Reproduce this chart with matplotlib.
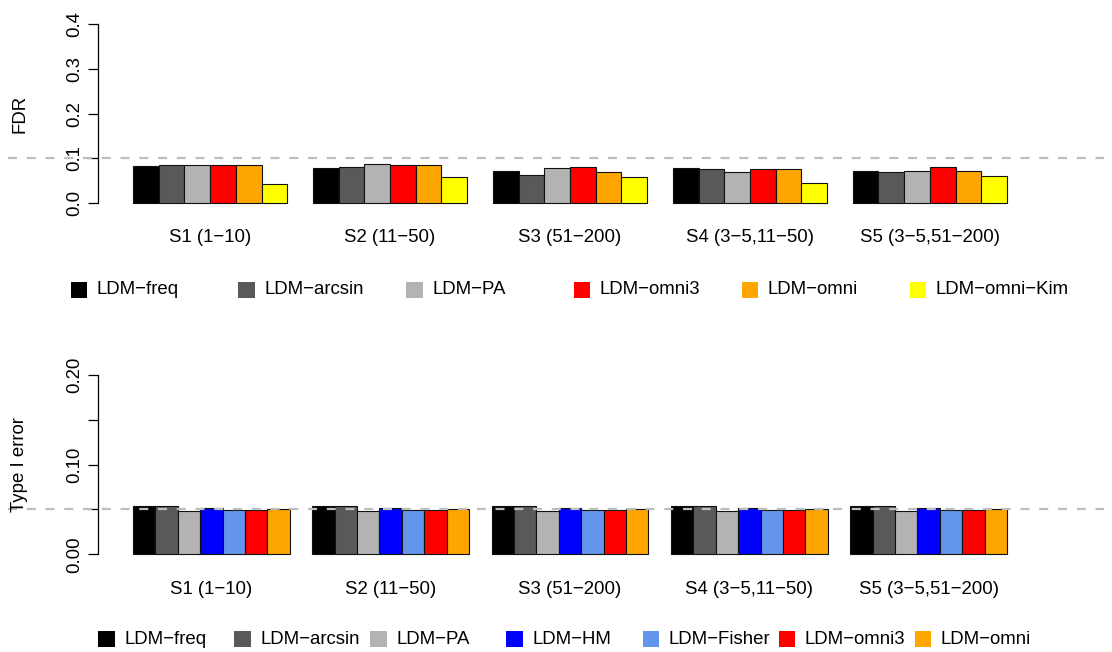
import matplotlib
matplotlib.use("Agg")
import matplotlib.pyplot as plt
import matplotlib.transforms as mtransforms
from matplotlib.patches import Rectangle
import numpy as np

plt.rcParams["font.family"] = ["Liberation Sans", "DejaVu Sans"]
plt.rcParams["font.size"] = 13.4
plt.rcParams["lines.scale_dashes"] = False

W, H = 1112, 652
MINUS = "\u2212"

scenarios = ["S1 (1-10)", "S2 (11-50)", "S3 (51-200)",
             "S4 (3-5,11-50)", "S5 (3-5,51-200)"]

# FDR, one list per method, one value per scenario
fdr_methods = ["LDM-freq", "LDM-arcsin", "LDM-PA", "LDM-omni3", "LDM-omni",
               "LDM-omni-Kim"]
fdr_colors = ["#000000", "#595959", "#B3B3B3", "#FF0000", "#FFA500", "#FFFF00"]
fdr_freq = [0.083, 0.078, 0.071, 0.078, 0.072]
fdr_arcsin = [0.085, 0.082, 0.064, 0.076, 0.069]
fdr_pa = [0.086, 0.087, 0.078, 0.070, 0.071]
fdr_omni3 = [0.086, 0.086, 0.081, 0.076, 0.081]
fdr_omni = [0.086, 0.086, 0.070, 0.076, 0.073]
fdr_kim = [0.043, 0.059, 0.058, 0.046, 0.061]
fdr_target = 0.1

# type I error
t1_methods = ["LDM-freq", "LDM-arcsin", "LDM-PA", "LDM-HM", "LDM-Fisher",
              "LDM-omni3", "LDM-omni"]
t1_colors = ["#000000", "#595959", "#B3B3B3", "#0000FF", "#6495ED",
             "#FF0000", "#FFA500"]
t1_freq = [0.054, 0.054, 0.054, 0.054, 0.054]
t1_arcsin = [0.054, 0.054, 0.054, 0.054, 0.054]
t1_pa = [0.048, 0.048, 0.048, 0.048, 0.048]
t1_hm = [0.052, 0.052, 0.052, 0.052, 0.052]
t1_fisher = [0.049, 0.049, 0.049, 0.049, 0.049]
t1_omni3 = [0.049, 0.049, 0.049, 0.049, 0.049]
t1_omni = [0.051, 0.051, 0.051, 0.051, 0.051]
t1_alpha = 0.05


def rtext(s):
    return s.replace("-", MINUS)


def px_axes(fig, x0, y0, x1, y1):
    return fig.add_axes([x0 / W, 1 - y1 / H, (x1 - x0) / W, (y1 - y0) / H])


def grouped_bars(ax, series, colors, ymax, yticks, ylabels, target):
    n = len(series)
    ngroups = len(series[0])
    vals = np.array(series)
    for g in range(ngroups):
        for i in range(n):
            left = g * (n + 1) + 1 + i
            ax.bar(left + 0.5, vals[i, g], width=1, color=colors[i],
                   edgecolor="#111111", linewidth=0.8)
    span = ngroups * (n + 1) - 1
    ax.set_xlim(1 - 0.04 * span, ngroups * (n + 1) + 0.04 * span)
    ax.set_ylim(-0.04 * ymax, 1.04 * ymax)
    for s in ["top", "right", "bottom"]:
        ax.spines[s].set_visible(False)
    ax.spines["left"].set_bounds(0, ymax)
    ax.spines["left"].set_linewidth(0.9)
    ax.set_xticks([])
    ax.set_yticks(yticks)
    ax.set_yticklabels(ylabels, rotation=90, va="center")
    ax.tick_params(axis="y", length=7.5, width=0.9, pad=3)
    # reference level, drawn across the whole figure width
    x0 = (8 - ax.get_position().x0 * W) / (ax.get_position().width * W)
    x1 = (1104 - ax.get_position().x0 * W) / (ax.get_position().width * W)
    ax.axhline(target, xmin=x0, xmax=x1, color="#BEBEBE", linewidth=1.6,
               dashes=(6.5, 7), clip_on=False, zorder=5)
    centers = [g * (n + 1) + 1 + n / 2 for g in range(ngroups)]
    return centers


def draw_legend(fig, labels, colors, x_start, step, y_center, size=16.5):
    for k, (lab, col) in enumerate(zip(labels, colors)):
        x = x_start + k * step
        fig.add_artist(Rectangle((x / W, 1 - (y_center + size / 2) / H),
                                 size / W, size / H, transform=fig.transFigure,
                                 facecolor=col, edgecolor="none"))
        fig.text((x + 26) / W, 1 - y_center / H, rtext(lab), ha="left",
                 va="center")


fig = plt.figure(figsize=(W / 100, H / 100), dpi=100)

ax1 = px_axes(fig, 98, 16.8, 1042, 210.5)
c1 = grouped_bars(ax1, [fdr_freq, fdr_arcsin, fdr_pa, fdr_omni3, fdr_omni, fdr_kim],
                  fdr_colors, 0.4, [0, 0.1, 0.2, 0.3, 0.4],
                  ["0.0", "0.1", "0.2", "0.3", "0.4"], fdr_target)
tr1 = mtransforms.blended_transform_factory(ax1.transData, fig.transFigure)
for c, lab in zip(c1, scenarios):
    ax1.text(c, 1 - 238 / H, rtext(lab), transform=tr1, ha="center", va="center")
fig.text(20 / W, 1 - 113.5 / H, "FDR", rotation=90, ha="center", va="center")
draw_legend(fig, fdr_methods, fdr_colors, 70.5, 167.8, 290)

ax2 = px_axes(fig, 98, 367.8, 1042, 561.5)
c2 = grouped_bars(ax2, [t1_freq, t1_arcsin, t1_pa, t1_hm, t1_fisher, t1_omni3, t1_omni],
                  t1_colors, 0.2, [0, 0.05, 0.1, 0.15, 0.2],
                  ["0.00", "", "0.10", "", "0.20"], t1_alpha)
tr2 = mtransforms.blended_transform_factory(ax2.transData, fig.transFigure)
for c, lab in zip(c2, scenarios):
    ax2.text(c, 1 - 589.5 / H, rtext(lab), transform=tr2, ha="center", va="center")
fig.text(20 / W, 1 - 464.6 / H, "Type I error", rotation=90, ha="center",
         va="center")
draw_legend(fig, t1_methods, t1_colors, 98.2, 136.1, 639)

fig.savefig("out.png", dpi=100)
